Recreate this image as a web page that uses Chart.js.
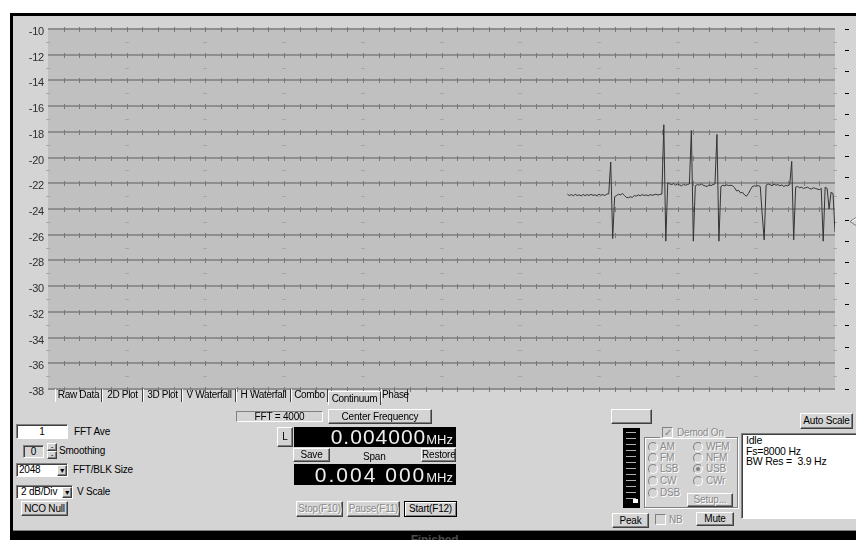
<!DOCTYPE html>
<html>
<head>
<meta charset="utf-8">
<script src="https://cdn.jsdelivr.net/npm/chart.js@4.4.1/dist/chart.umd.min.js"></script>
<style>
  body { margin: 0; width: 856px; height: 540px; background: #fff; position: relative; overflow: hidden;
         font: 10px "Liberation Sans", Arial, sans-serif; letter-spacing: -0.2px; color: #000; }
  #panel { position: absolute; left: 10px; top: 13px; width: 843px; height: 524px; background: #d4d4d4;
           border-left: 3px solid #000; border-top: 3px solid #000; }
  #plot { position: absolute; left: 13px; top: 16px; width: 843px; height: 386px; }
  .abs { position: absolute; box-sizing: border-box; white-space: nowrap; }
  .btn { position: absolute; box-sizing: border-box; background: #d4d4d4; text-align: center; white-space: nowrap;
         overflow: hidden; border: 1px solid; border-color: #fff #404040 #404040 #fff; box-shadow: inset -1px -1px #808080; }
  .sunk { position: absolute; box-sizing: border-box; white-space: nowrap; border: 1px solid;
          border-color: #808080 #fff #fff #808080; box-shadow: inset 1px 1px #404040; }
  .dis { color: #8a8a8a; text-shadow: 1px 1px 0 #fff; }
  .tab { position: absolute; top: 389px; height: 13px; line-height: 12px; text-align: center; box-sizing: border-box;
         white-space: nowrap; letter-spacing: -0.3px; border-left: 1px solid #fff; border-right: 1px solid #404040; }
  .tab.sel { top: 391px; height: 14px; border-top: 1px solid #fff; line-height: 14px; }
  .disp { position: absolute; box-sizing: border-box; background: #000; color: #eee; display: flex;
          justify-content: flex-end; align-items: baseline; padding-right: 3px; white-space: nowrap; letter-spacing: 0; }
  .radio { position: absolute; width: 10px; height: 10px; border-radius: 50%; box-sizing: border-box;
           border: 1px solid; border-color: #808080 #fff #fff #808080; background: #d4d4d4; }
  .radio.on::after { content: ""; position: absolute; left: 2px; top: 2px; width: 4px; height: 4px;
                     border-radius: 50%; background: #808080; }
  .box { position: absolute; width: 11px; height: 11px; box-sizing: border-box; border: 1px solid;
         border-color: #808080 #fff #fff #808080; background: #d4d4d4; font-size: 10px; line-height: 9px;
         text-align: center; color: #808080; }
  #meter { position: absolute; left: 623px; top: 428px; width: 17px; height: 80px; background: #000; }
  #meter div { position: absolute; left: 3px; top: 4px; width: 10px; height: 70px;
               background: repeating-linear-gradient(to bottom, #b0b0b0 0 1px, transparent 1px 6px); }
  #status { position: absolute; left: 13px; top: 530px; width: 843px; height: 10px; background: #000;
            border-top: 1px solid #808080; box-sizing: border-box; }
</style>
</head>
<body>
<div id="panel"></div>
<div id="plot"><canvas id="spectrum" width="843" height="386"></canvas></div>

<div class="tab" style="left:55px;width:47px">Raw Data</div>
<div class="tab" style="left:102px;width:41px">2D Plot</div>
<div class="tab" style="left:143px;width:39px">3D Plot</div>
<div class="tab" style="left:182px;width:54px">V Waterfall</div>
<div class="tab" style="left:236px;width:55px">H Waterfall</div>
<div class="tab" style="left:291px;width:37px">Combo</div>
<div class="tab sel" style="left:328px;width:53px">Continuum</div>
<div class="tab" style="left:381px;width:27px">Phase</div>

<div class="sunk" style="left:236px;top:411px;width:87px;height:11px;box-shadow:none;text-align:center;line-height:9px">FFT = 4000</div>
<div class="btn" style="left:328px;top:409px;width:104px;height:15px;line-height:13px">Center Frequency</div>

<div class="sunk" style="left:16px;top:424px;width:52px;height:15px;background:#fff;text-align:center;line-height:13px">1</div>
<div class="abs" style="left:74px;top:426px">FFT Ave</div>
<div class="sunk" style="left:23px;top:445px;width:21px;height:13px;text-align:center;line-height:11px">0</div>
<div class="btn" style="left:47px;top:443px;width:10px;height:8px;font-size:8px;line-height:5px">-</div>
<div class="btn" style="left:47px;top:451px;width:10px;height:8px;font-size:8px;line-height:5px">-</div>
<div class="abs" style="left:59px;top:445px">Smoothing</div>
<div class="sunk" style="left:16px;top:463px;width:52px;height:14px;background:#fff;line-height:12px;padding-left:2px">2048</div>
<div class="btn" style="left:57px;top:465px;width:10px;height:11px;font-size:7px;line-height:9px">&#9660;</div>
<div class="abs" style="left:73px;top:464px">FFT/BLK Size</div>
<div class="sunk" style="left:16px;top:485px;width:57px;height:14px;background:#fff;line-height:12px;padding-left:4px">2 dB/Div</div>
<div class="btn" style="left:62px;top:487px;width:10px;height:11px;font-size:7px;line-height:9px">&#9660;</div>
<div class="abs" style="left:77px;top:486px">V Scale</div>
<div class="btn" style="left:21px;top:501px;width:47px;height:15px;line-height:13px">NCO Null</div>

<div class="btn" style="left:277px;top:427px;width:16px;height:20px;line-height:18px">L</div>
<div class="disp" style="left:294px;top:427px;width:162px;height:20px">
  <span style="font-size:21px;line-height:20px;letter-spacing:1px">0.004000</span><span style="font-size:13px">MHz</span>
</div>
<div class="btn" style="left:293px;top:448px;width:37px;height:14px;line-height:12px">Save</div>
<div class="abs" style="left:363px;top:451px">Span</div>
<div class="btn" style="left:421px;top:448px;width:35px;height:14px;line-height:12px">Restore</div>
<div class="disp" style="left:294px;top:464px;width:162px;height:21px">
  <span style="font-size:21px;line-height:21px;letter-spacing:2px">0.004 000 </span><span style="font-size:13px">MHz</span>
</div>
<div class="btn dis" style="left:296px;top:501px;width:47px;height:16px;line-height:14px">Stop(F10)</div>
<div class="btn dis" style="left:347px;top:501px;width:53px;height:16px;line-height:14px">Pause(F11)</div>
<div class="btn" style="left:404px;top:501px;width:53px;height:16px;line-height:14px;border-color:#000;box-shadow:inset 1px 1px #fff, inset -1px -1px #808080">Start(F12)</div>

<div class="btn" style="left:611px;top:409px;width:41px;height:15px"></div>
<div id="meter"><div></div></div>
<div class="abs" style="left:633px;top:499px;width:5px;height:4px;background:#fff"></div>

<div class="abs" style="left:644px;top:437px;width:94px;height:71px;border:1px solid #808080;box-shadow:1px 1px #fff, inset 1px 1px #fff"></div>
<div class="abs" style="left:660px;top:426px;width:66px;height:12px;background:#d4d4d4"></div>
<div class="box" style="left:662px;top:427px">&#10003;</div>
<div class="abs dis" style="left:677px;top:427px">Demod On</div>

<div class="radio" style="left:648px;top:442px"></div><div class="abs dis" style="left:660px;top:441px">AM</div>
<div class="radio" style="left:648px;top:453px"></div><div class="abs dis" style="left:660px;top:452px">FM</div>
<div class="radio" style="left:648px;top:464px"></div><div class="abs dis" style="left:660px;top:463px">LSB</div>
<div class="radio" style="left:648px;top:476px"></div><div class="abs dis" style="left:660px;top:475px">CW</div>
<div class="radio" style="left:648px;top:488px"></div><div class="abs dis" style="left:660px;top:487px">DSB</div>
<div class="radio" style="left:693px;top:442px"></div><div class="abs dis" style="left:706px;top:441px">WFM</div>
<div class="radio" style="left:693px;top:453px"></div><div class="abs dis" style="left:706px;top:452px">NFM</div>
<div class="radio on" style="left:693px;top:464px"></div><div class="abs dis" style="left:706px;top:463px">USB</div>
<div class="radio" style="left:693px;top:476px"></div><div class="abs dis" style="left:706px;top:475px">CWr</div>
<div class="btn dis" style="left:687px;top:493px;width:46px;height:14px;line-height:12px">Setup...</div>

<div class="btn" style="left:612px;top:513px;width:37px;height:15px;line-height:13px">Peak</div>
<div class="box" style="left:655px;top:514px"></div>
<div class="abs dis" style="left:669px;top:514px">NB</div>
<div class="btn" style="left:696px;top:512px;width:38px;height:14px;line-height:12px">Mute</div>

<div class="btn" style="left:800px;top:413px;width:53px;height:16px;line-height:14px">Auto Scale</div>
<div class="sunk" style="left:741px;top:433px;width:116px;height:86px;background:#fff;padding:1px 4px;line-height:10.5px;font-size:10.5px">Idle<br>Fs=8000 Hz<br>BW Res =&nbsp; 3.9 Hz</div>

<div id="status"><div class="abs" style="left:0;width:843px;top:2px;text-align:center;color:#4a4a4a;font-weight:bold;font-size:12px">Finished</div></div>

<script>
// vertical scale, dB
const yMin = -38;
const yMax = -10;
const dbTicks = [-10, -12, -14, -16, -18, -20, -22, -24, -26, -28, -30, -32, -34, -36, -38];
// horizontal: FFT bins across the plot
const binCount = 400;
const minorStep = 8;   // 50 minor divisions
const majorStep = 40;  // 10 major divisions
const rightMarks = 17; // marks on the right hand scale
const refLevel = -24.9;

// trace starts at this bin, one value per bin after it
const startBin = 264;
const levelDb = [
  -22.85, -22.95, -22.88, -22.97, -22.86, -22.95, -22.9, -22.98, -22.87, -22.96, -22.88,
  -22.95, -22.86, -22.94, -22.9, -22.97, -22.85, -22.93, -22.88, -22.95, -22.84, -22.82,
  -20.35, -26.3,
  -23.05, -22.95, -22.85, -22.9, -22.8, -22.95, -23.1, -23.12, -23.05, -23.1, -22.95, -23.0, -22.9,
  -22.97, -22.88, -22.95, -22.9, -22.98, -22.88, -22.93, -22.9, -22.85, -22.92, -22.86, -22.84,
  -17.45, -26.5,
  -21.95, -22.05, -22.1, -22.02, -22.15, -22.05, -22.12, -22.2, -22.08, -22.15, -22.1, -22.05,
  -17.9, -26.5,
  -22.2, -22.1, -22.15, -22.05, -22.15, -22.2, -22.25, -22.12, -22.18, -22.1, -22.05,
  -18.2, -26.5,
  -22.25, -22.15, -22.2, -22.12, -22.18, -22.15, -22.2, -22.35, -22.6, -22.55, -22.75,
  -22.7, -22.9, -23.0, -22.8, -22.5, -22.25, -22.2, -22.22, -22.18, -22.25,
  -24.4, -26.4,
  -22.15, -22.05, -22.1, -22.2, -22.05, -22.15, -22.1, -22.2, -22.12, -22.25, -22.15, -22.2, -22.1,
  -20.3, -26.4,
  -22.3, -22.25, -22.35, -22.3, -22.4, -22.35, -22.3, -22.4, -22.45, -22.35, -22.4, -22.45, -22.5, -22.4,
  -26.5,
  -22.3, -22.4, -24.0, -22.7, -22.8, -25.8
];

const decor = {
  id: 'decor',
  beforeDraw(chart) {
    const { ctx, chartArea: a } = chart;
    ctx.save();
    ctx.fillStyle = '#c0c0c0';
    ctx.fillRect(a.left, a.top, a.width, a.height);
    ctx.restore();
  },
  beforeDatasetsDraw(chart) {
    const { ctx } = chart;
    const xs = chart.scales.x, ys = chart.scales.y;
    ctx.save();
    ctx.lineWidth = 1;
    // little ticks along each grid line
    ctx.strokeStyle = '#787878';
    ctx.beginPath();
    dbTicks.forEach(v => {
      const py = Math.round(ys.getPixelForValue(v));
      for (let b = minorStep; b < binCount; b += minorStep) {
        const px = Math.round(xs.getPixelForValue(b)) + 0.5;
        ctx.moveTo(px, py - 2);
        ctx.lineTo(px, py + 3);
      }
    });
    ctx.stroke();
    // dashes half way between grid lines
    ctx.strokeStyle = '#a6a6a6';
    ctx.beginPath();
    for (let i = 0; i < dbTicks.length - 1; i++) {
      const py = Math.round(ys.getPixelForValue(dbTicks[i] - 1)) + 0.5;
      for (let b = 0; b <= binCount; b += majorStep) {
        const px = Math.round(xs.getPixelForValue(b));
        ctx.moveTo(px - 2, py);
        ctx.lineTo(px + 2, py);
      }
    }
    ctx.stroke();
    ctx.restore();
  },
  afterDraw(chart) {
    const { ctx, chartArea: a } = chart;
    const ys = chart.scales.y;
    ctx.save();
    ctx.lineWidth = 1;
    ctx.strokeStyle = '#000';
    ctx.beginPath();
    for (let k = 0; k <= rightMarks; k++) {
      const py = Math.round(a.top + k * a.height / rightMarks) + 0.5;
      ctx.moveTo(a.right + 10, py);
      ctx.lineTo(a.right + 14, py);
    }
    ctx.stroke();
    const my = Math.round(ys.getPixelForValue(refLevel)) + 0.5;
    ctx.strokeStyle = '#7a7a7a';
    ctx.beginPath();
    ctx.moveTo(a.right + 21, my - 4);
    ctx.lineTo(a.right + 15, my);
    ctx.lineTo(a.right + 21, my + 4);
    ctx.stroke();
    ctx.strokeStyle = '#fff';
    ctx.beginPath();
    ctx.moveTo(a.right + 21, my - 3);
    ctx.lineTo(a.right + 17, my);
    ctx.stroke();
    ctx.restore();
  }
};

new Chart(document.getElementById('spectrum'), {
  type: 'line',
  data: {
    datasets: [{
      data: levelDb.map((v, i) => ({ x: startBin + i, y: v })),
      borderColor: '#343434',
      borderWidth: 1,
      pointRadius: 0,
      tension: 0,
      fill: false
    }]
  },
  options: {
    responsive: false,
    animation: false,
    layout: { padding: { left: 0, top: 13, right: 21, bottom: 13 } },
    plugins: { legend: { display: false }, tooltip: { enabled: false } },
    scales: {
      x: { type: 'linear', min: 0, max: binCount, display: false },
      y: {
        min: yMin,
        max: yMax,
        afterFit: s => { s.width = 35; },
        afterBuildTicks: s => { s.ticks = dbTicks.map(v => ({ value: v })); },
        border: { display: false },
        grid: { color: '#8e8e8e', lineWidth: 2, drawTicks: false },
        ticks: {
          padding: 4,
          labelOffset: 3,
          color: '#2e2e2e',
          font: { family: 'Liberation Sans', size: 11 }
        }
      }
    }
  },
  plugins: [decor]
});
</script>
</body>
</html>
